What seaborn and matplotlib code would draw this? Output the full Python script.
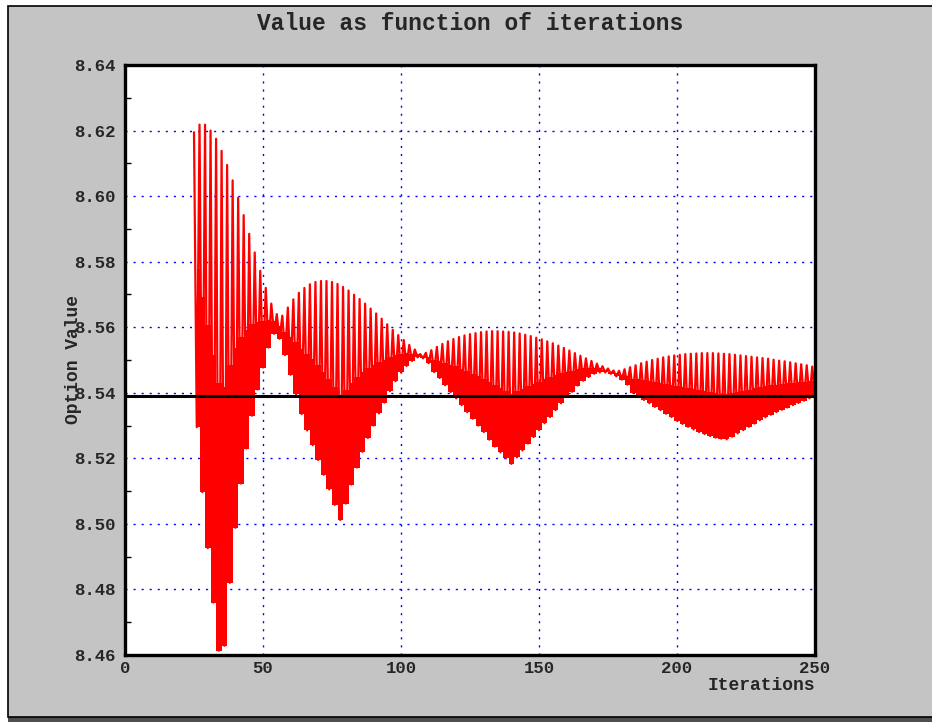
import numpy as np
import pandas as pd
import matplotlib
matplotlib.use("Agg")
import matplotlib.pyplot as plt
import seaborn as sns
from matplotlib.patches import Rectangle
from matplotlib.ticker import MultipleLocator, FixedLocator

# Option value per number of tree iterations: odd and even step counts
odd_iters = list(range(25, 250, 2))
odd_values = [
    8.6195, 8.6218, 8.6218, 8.6200, 8.6175, 8.6138, 8.6095, 8.6048, 8.5995, 8.5942,
    8.5885, 8.5828, 8.5772, 8.5720, 8.5672, 8.5640, 8.5635, 8.5660, 8.5685, 8.5705,
    8.5720, 8.5731, 8.5738, 8.5741, 8.5741, 8.5738, 8.5732, 8.5723, 8.5712, 8.5699,
    8.5686, 8.5672, 8.5657, 8.5642, 8.5626, 8.5609, 8.5592, 8.5576, 8.5561, 8.5546,
    8.5532, 8.5518, 8.5522, 8.5530, 8.5540, 8.5549, 8.5557, 8.5564, 8.5570, 8.5575,
    8.5579, 8.5582, 8.5585, 8.5587, 8.5588, 8.5588, 8.5587, 8.5586, 8.5584, 8.5581,
    8.5577, 8.5573, 8.5568, 8.5563, 8.5557, 8.5551, 8.5544, 8.5537, 8.5529, 8.5521,
    8.5513, 8.5505, 8.5497, 8.5489, 8.5481, 8.5474, 8.5468, 8.5467, 8.5472, 8.5478,
    8.5484, 8.5490, 8.5495, 8.5500, 8.5504, 8.5508, 8.5511, 8.5514, 8.5516, 8.5518,
    8.5519, 8.5520, 8.5521, 8.5521, 8.5521, 8.5520, 8.5519, 8.5518, 8.5516, 8.5514,
    8.5512, 8.5510, 8.5508, 8.5506, 8.5504, 8.5501, 8.5498, 8.5496, 8.5493, 8.5490,
    8.5487, 8.5484, 8.5480,
]
even_iters = list(range(26, 251, 2))
even_values = [
    8.5295, 8.5097, 8.4926, 8.4760, 8.4613, 8.4628, 8.4820, 8.4988, 8.5123, 8.5230,
    8.5330, 8.5410, 8.5477, 8.5538, 8.5580, 8.5565, 8.5515, 8.5455, 8.5395, 8.5335,
    8.5285, 8.5240, 8.5195, 8.5150, 8.5105, 8.5058, 8.5012, 8.5062, 8.5120, 8.5172,
    8.5220, 8.5262, 8.5300, 8.5337, 8.5370, 8.5405, 8.5435, 8.5462, 8.5482, 8.5497,
    8.5508, 8.5505, 8.5490, 8.5463, 8.5445, 8.5423, 8.5402, 8.5383, 8.5362, 8.5341,
    8.5321, 8.5300, 8.5280, 8.5257, 8.5236, 8.5218, 8.5200, 8.5183, 8.5203, 8.5224,
    8.5245, 8.5265, 8.5286, 8.5307, 8.5326, 8.5347, 8.5368, 8.5387, 8.5403, 8.5422,
    8.5437, 8.5448, 8.5458, 8.5462, 8.5462, 8.5458, 8.5450, 8.5440, 8.5425,
    8.5400, 8.5390, 8.5378, 8.5368, 8.5357, 8.5347, 8.5336, 8.5326, 8.5315, 8.5305,
    8.5296, 8.5288, 8.5280, 8.5274, 8.5268, 8.5263, 8.5260, 8.5258, 8.5266, 8.5276,
    8.5286, 8.5296, 8.5306, 8.5316, 8.5325, 8.5333, 8.5341, 8.5348, 8.5355, 8.5362,
    8.5369, 8.5376, 8.5383, 8.5389,
]
# Closed-form (Black-Scholes) reference value
reference_value = 8.539

x_ticks = [0, 50, 100, 150, 200, 250]
y_ticks = [8.46, 8.48, 8.50, 8.52, 8.54, 8.56, 8.58, 8.60, 8.62, 8.64]

title = "Value as function of iterations"
x_label = "Iterations"
y_label = "Option Value"

df = pd.DataFrame({
    "Iterations": odd_iters + even_iters,
    "Option Value": odd_values + even_values,
}).sort_values("Iterations").reset_index(drop=True)

sns.set_style("white")
plt.rcParams["font.family"] = ["Liberation Mono", "DejaVu Sans Mono"]

W, H = 932, 722
fig = plt.figure(figsize=(W / 100, H / 100), dpi=100)
fig.patch.set_facecolor("white")

# grey window panel: black top/left edge, dark strip along the bottom
fig.patches.append(Rectangle((8 / W, 0), (W - 8) / W, (H - 6) / H,
                             transform=fig.transFigure, facecolor="#4e4e4e",
                             edgecolor="none", zorder=-3))
fig.patches.append(Rectangle((8 / W, 5 / H), (W - 6) / W, (H - 11) / H,
                             transform=fig.transFigure, facecolor="#c4c4c4",
                             edgecolor="black", linewidth=1.2, zorder=-2))

ax = fig.add_axes([125 / W, 67 / H, 690 / W, 590 / H])
ax.set_facecolor("white")

# dense lower band of the oscillation: from each even step up to just past
# the half-way point towards the neighbouring odd steps
odd_arr = np.array(odd_values)
even_arr = np.array(even_values)
next_odd = np.append(odd_arr[1:], odd_arr[-1])
neighbour_top = (odd_arr + next_odd) / 2
band_top = even_arr + 0.53 * (neighbour_top - even_arr)
ax.fill_between(even_iters, even_arr, band_top, step="mid",
                color="#ff0000", linewidth=0, zorder=2)

sns.lineplot(data=df, x="Iterations", y="Option Value", ax=ax,
             color="#ff0000", linewidth=1.6, estimator=None, sort=True,
             zorder=3)

ax.axhline(reference_value, color="black", linewidth=2.2, zorder=4)

ax.set_xlim(0, 250)
ax.set_ylim(8.46, 8.64)
ax.xaxis.set_major_locator(FixedLocator(x_ticks))
ax.yaxis.set_major_locator(FixedLocator(y_ticks))
ax.yaxis.set_minor_locator(MultipleLocator(0.01))
ax.set_xticklabels([str(t) for t in x_ticks])
ax.set_yticklabels([f"{t:.2f}" for t in y_ticks])

ax.grid(True, which="major", color="#0000ff", linewidth=1.0,
        linestyle=(0, (1.5, 4.3)), zorder=1)
ax.set_axisbelow(True)

for s in ax.spines.values():
    s.set_color("black")
    s.set_linewidth(2.4)
    s.set_zorder(5)

ax.tick_params(axis="y", which="major", direction="out", length=4, width=1,
               color="black", pad=3, labelsize=12.5)
ax.tick_params(axis="y", which="minor", direction="in", length=4, width=1,
               color="black", left=True)
ax.tick_params(axis="x", which="major", direction="in", length=4, width=1,
               color="black", pad=4, labelsize=12.5)
for lab in ax.get_xticklabels() + ax.get_yticklabels():
    lab.set_fontweight("bold")

ax.set_xlabel(x_label, fontsize=13, fontweight="bold", ha="right", va="center")
ax.xaxis.set_label_coords(1.0, -0.051)
ax.set_ylabel(y_label, fontsize=13, fontweight="bold", ha="center", va="center")
ax.yaxis.set_label_coords(-0.074, 0.5)

ax.set_title(title, fontsize=16.5, fontweight="bold", y=1.07, va="center", pad=0)

fig.savefig("out.png", dpi=100, facecolor=fig.get_facecolor())
